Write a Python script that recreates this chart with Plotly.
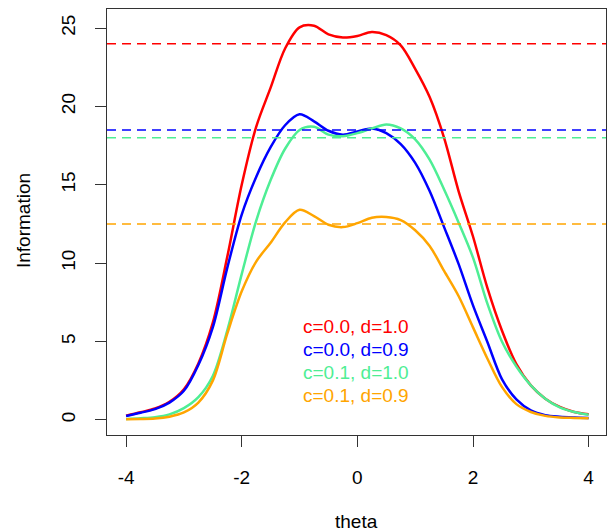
import plotly.graph_objects as go

theta = [-4, -3.75, -3.5, -3.25, -3, -2.75, -2.5, -2.25, -2, -1.75, -1.5, -1.25, -1,
         -0.75, -0.5, -0.25, 0, 0.25, 0.5, 0.75, 1, 1.25, 1.5, 1.75, 2, 2.25, 2.5,
         2.75, 3, 3.25, 3.5, 3.75, 4]

info_c00_d10 = [0.26, 0.48, 0.72, 1.15, 1.95, 3.6, 6.2, 10.4, 15.0, 18.7, 21.2, 23.7, 25.05,
                25.15, 24.6, 24.4, 24.5, 24.75, 24.55, 23.9, 22.4, 20.6, 18.0, 14.6, 11.7, 8.4, 5.7,
                3.55, 2.2, 1.35, 0.82, 0.5, 0.35]
info_c00_d09 = [0.24, 0.45, 0.68, 1.1, 1.85, 3.5, 5.9, 9.7, 13.1, 15.5, 17.4, 18.8, 19.5,
                19.05, 18.45, 18.2, 18.4, 18.6, 18.3, 17.6, 16.4, 14.6, 12.3, 9.95, 7.3, 4.95, 2.6,
                1.3, 0.6, 0.3, 0.2, 0.15, 0.12]
info_c01_d10 = [0.05, 0.1, 0.17, 0.35, 0.75, 1.45, 2.8, 5.7, 9.3, 12.7, 15.3, 17.3, 18.5,
                18.7, 18.2, 18.1, 18.3, 18.6, 18.85, 18.6, 17.9, 16.6, 14.7, 12.6, 10.35, 7.4, 5.0,
                3.4, 2.2, 1.35, 0.8, 0.5, 0.32]
info_c01_d09 = [0.04, 0.05, 0.08, 0.2, 0.47, 1.1, 2.5, 5.5, 8.2, 10.1, 11.3, 12.6, 13.4,
                13.0, 12.45, 12.3, 12.55, 12.9, 12.95, 12.75, 12.1, 11.1, 9.5, 7.9, 5.9, 3.9, 2.1,
                1.0, 0.5, 0.25, 0.15, 0.12, 0.1]

ref_levels = [24.0, 18.5, 18.0, 12.5]
labels = ["c=0.0, d=1.0", "c=0.0, d=0.9", "c=0.1, d=1.0", "c=0.1, d=0.9"]
colors = ["#FF0000", "#0000FF", "#4EEE94", "#FFA500"]
label_y = [5.95, 4.48, 3.0, 1.53]
xticks = [-4, -2, 0, 2, 4]
xticklabels = ["-4", "-2", "0", "2", "4"]
yticks = [0, 5, 10, 15, 20, 25]
yticklabels = ["0", "5", "10", "15", "20", "25"]

FONT = "Liberation Sans, Arial, sans-serif"
series = [info_c00_d10, info_c00_d09, info_c01_d10, info_c01_d09]

fig = go.Figure()
for vals, col in zip(series, colors):
    fig.add_trace(go.Scatter(x=theta, y=vals, mode="lines",
                             line=dict(color=col, width=2.5, shape="spline", smoothing=0.9),
                             showlegend=False, hoverinfo="skip"))

for lvl, col in zip(ref_levels, colors):
    fig.add_shape(type="line", xref="paper", x0=0, x1=1, yref="y", y0=lvl, y1=lvl,
                  line=dict(color=col, width=1.5, dash="9px,6px"))

for txt, col, yy in zip(labels, colors, label_y):
    fig.add_annotation(x=-0.97, y=yy, xref="x", yref="y", text=txt, showarrow=False,
                       xanchor="left", yanchor="middle",
                       font=dict(family=FONT, size=19, color=col))

PW = 607 - 107 - 1
PH = 532 - 97 - 9
fig.add_annotation(x=0.5, y=(532 - 97 - 521) / PH, xref="paper", yref="paper", text="theta",
                   showarrow=False, xanchor="center", yanchor="middle",
                   font=dict(family=FONT, size=19, color="black"))
fig.add_annotation(x=(24 - 107) / PW, y=(532 - 97 - 221) / PH, xref="paper", yref="paper",
                   text="Information", textangle=-90, showarrow=False, xanchor="center",
                   yanchor="middle", font=dict(family=FONT, size=19, color="black"))

fig.update_layout(
    width=607, height=532,
    margin=dict(l=107, r=1, t=9, b=97),
    plot_bgcolor="white", paper_bgcolor="white",
    font=dict(family=FONT, size=19, color="black"),
    xaxis=dict(range=[-4.33, 4.30], tickvals=xticks, ticktext=xticklabels, ticks="outside",
               ticklen=11, tickcolor="#333", showline=True, mirror=True, linecolor="#333",
               linewidth=1, showgrid=False, zeroline=False, ticklabelstandoff=14,
               tickfont=dict(family=FONT, size=19, color="black")),
    yaxis=dict(range=[-0.97, 26.22], tickvals=yticks, ticktext=yticklabels, ticks="outside",
               ticklen=11, tickcolor="#333", showline=True, mirror=True, linecolor="#333",
               linewidth=1, showgrid=False, zeroline=False, tickangle=-90, ticklabelstandoff=12,
               tickfont=dict(family=FONT, size=19, color="black")),
)

fig.write_html("out.html")
